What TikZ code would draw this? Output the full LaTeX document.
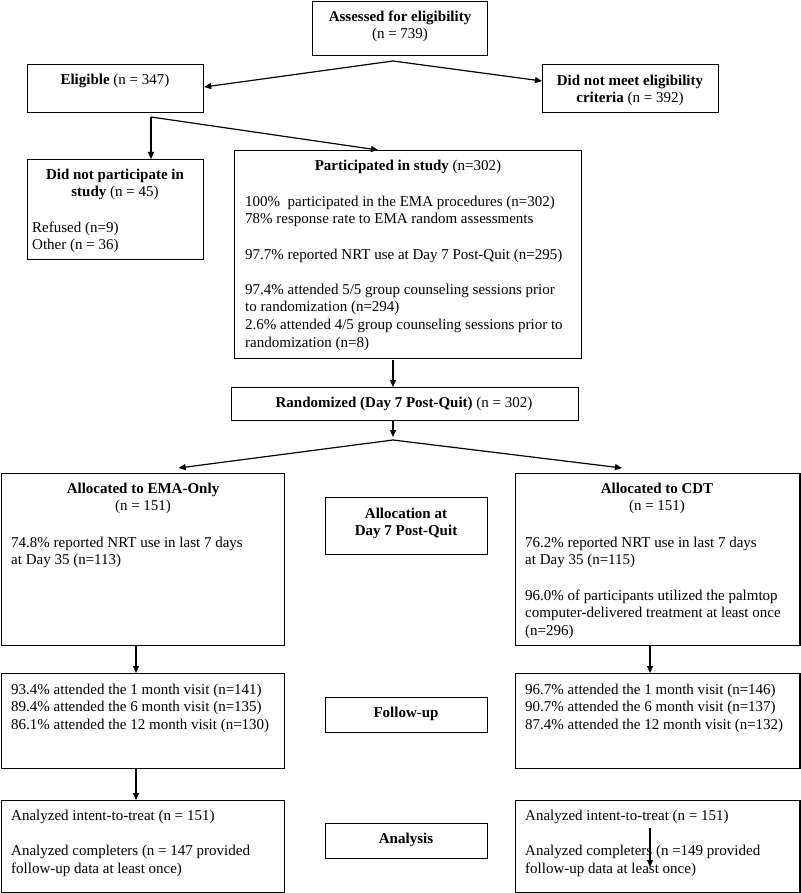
\documentclass[tikz,border=0pt]{standalone}
\usepackage{fontspec}
\setmainfont{Liberation Serif}
\usetikzlibrary{calc,arrows.meta}
\newcommand\myfs{\fontsize{15}{17.6}\selectfont}
\begin{document}
\begin{tikzpicture}[x=1pt,y=-1pt,
  box/.style={draw, line width=1.2pt, inner sep=0pt, anchor=north west},
  txl/.style={inner sep=0pt, align=left, anchor=north west, font=\myfs},
  txc/.style={inner sep=0pt, align=center, anchor=north, font=\myfs},
  arr/.style={line width=1.2pt, -{Triangle[length=7pt,width=6pt]}}]
\useasboundingbox (0,0) rectangle (800,893);
% boxes
\node[box, minimum width=175, minimum height=54] (asses) at (312,0.7) {};
\node[box, minimum width=176, minimum height=48] (elig) at (27,64) {};
\node[box, minimum width=176, minimum height=48] (dnm) at (542,64) {};
\node[box, minimum width=176, minimum height=100] (dnp) at (27,159) {};
\node[box, minimum width=347, minimum height=208] (part) at (234,150) {};
\node[box, minimum width=347, minimum height=33] (rand) at (231,387) {};
\node[box, minimum width=283.4, minimum height=172] (ema) at (0.6,473) {};
\node[box, minimum width=162, minimum height=57] (alloc) at (325,497) {};
\node[box, minimum width=284.4, minimum height=172] (cdt) at (515,473) {};
\node[box, minimum width=283.4, minimum height=95] (fu1) at (0.6,673) {};
\node[box, minimum width=162, minimum height=35] (fup) at (325,697) {};
\node[box, minimum width=284.4, minimum height=95] (fu2) at (515,673) {};
\node[box, minimum width=283.4, minimum height=92] (an1) at (0.6,800) {};
\node[box, minimum width=162, minimum height=35] (ana) at (325,823) {};
\node[box, minimum width=284.4, minimum height=92] (an2) at (515,800) {};
% texts
\node[txc] (t-asses) at (400,8.7) {\strut\textbf{Assessed for eligibility}\\(n = 739)};
\node[txc] (t-elig) at (115,71.7) {\strut\textbf{Eligible} (n = 347)};
\node[txc] (t-dnm) at (630,72.7) {\strut\textbf{Did not meet eligibility}\\\textbf{criteria} (n = 392)};
\node[txc] (t-dnp) at (115,166.7) {\strut\textbf{Did not participate in}\\\textbf{study} (n = 45)};
\node[txl] (t-dnp2) at (32,219.7) {\strut Refused (n=9)\\Other (n = 36)};
\node[txc] (t-part) at (408,157.7) {\strut\textbf{Participated in study} (n=302)};
\node[txl] (t-part2) at (245,193.7) {\strut 100\%~ participated in the EMA procedures (n=302)\\
78\% response rate to EMA random assessments\\[17.6pt]
97.7\% reported NRT use at Day 7 Post-Quit (n=295)\\[17.6pt]
97.4\% attended 5/5 group counseling sessions prior\\
to randomization (n=294)\\
2.6\% attended 4/5 group counseling sessions prior to\\
randomization (n=8)};
\node[txc] (t-rand) at (404,394.7) {\strut\textbf{Randomized (Day 7 Post-Quit)} (n = 302)};
\node[txc] (t-ema) at (143,480.7) {\strut\textbf{Allocated to EMA-Only}\\(n = 151)};
\node[txl] (t-ema2) at (11,534.7) {\strut 74.8\% reported NRT use in last 7 days\\at Day 35 (n=113)};
\node[txc] (t-alloc) at (406,505.7) {\strut\textbf{Allocation at}\\\textbf{Day 7 Post-Quit}};
\node[txc] (t-cdt) at (657,480.7) {\strut\textbf{Allocated to CDT}\\(n = 151)};
\node[txl] (t-cdt2) at (525,534.7) {\strut 76.2\% reported NRT use in last 7 days\\at Day 35 (n=115)\\[17.6pt]
96.0\% of participants utilized the palmtop\\computer-delivered treatment at least once\\(n=296)};
\node[txl] (t-fu1) at (11,681.7) {\strut 93.4\% attended the 1 month visit (n=141)\\89.4\% attended the 6 month visit (n=135)\\86.1\% attended the 12 month visit (n=130)};
\node[txc] (t-fup) at (406,704.7) {\strut\textbf{Follow-up}};
\node[txl] (t-fu2) at (525,681.7) {\strut 96.7\% attended the 1 month visit (n=146)\\90.7\% attended the 6 month visit (n=137)\\87.4\% attended the 12 month visit (n=132)};
\node[txl] (t-an1) at (11,807.7) {\strut Analyzed intent-to-treat (n = 151)\\[17.6pt]Analyzed completers (n = 147 provided\\follow-up data at least once)};
\node[txc] (t-ana) at (406,830.7) {\strut\textbf{Analysis}};
\node[txl] (t-an2) at (525,807.7) {\strut Analyzed intent-to-treat (n = 151)\\[17.6pt]Analyzed completers (n =149 provided\\follow-up data at least once)};
% connectors
\coordinate (j1) at (393,61);
\draw[arr] (j1) -- ($(elig.north east)+(0,23)$);
\draw[arr] (j1) -- ($(dnm.north west)+(0,17)$);
\coordinate (j2) at (151,117);
\draw[arr] (j2) -- (j2 |- dnp.north);
\draw[arr] (j2) -- ($(part.north west)+(144,0)$);
\coordinate (a3) at (393,360);
\draw[arr] (a3) -- (a3 |- rand.north);
\coordinate (j3) at (393,440);
\draw[arr] (rand.south -| j3) -- ($(j3)+(0,-3)$);
\draw[arr] (j3) -- ($(ema.north west)+(178,-5)$);
\draw[arr] (j3) -- ($(cdt.north west)+(107,-5)$);
\draw[arr] ($(ema.south west)+(135.4,0)$) -- ($(fu1.north west)+(135.4,0)$);
\draw[arr] ($(cdt.south west)+(135,0)$) -- ($(fu2.north west)+(135,0)$);
\draw[arr] ($(fu1.south west)+(135.4,0)$) -- ($(an1.north west)+(135.4,0)$);
\draw[arr] ($(an2.north west)+(135,28)$) -- ($(an2.north west)+(135,67)$);
\end{tikzpicture}
\end{document}
